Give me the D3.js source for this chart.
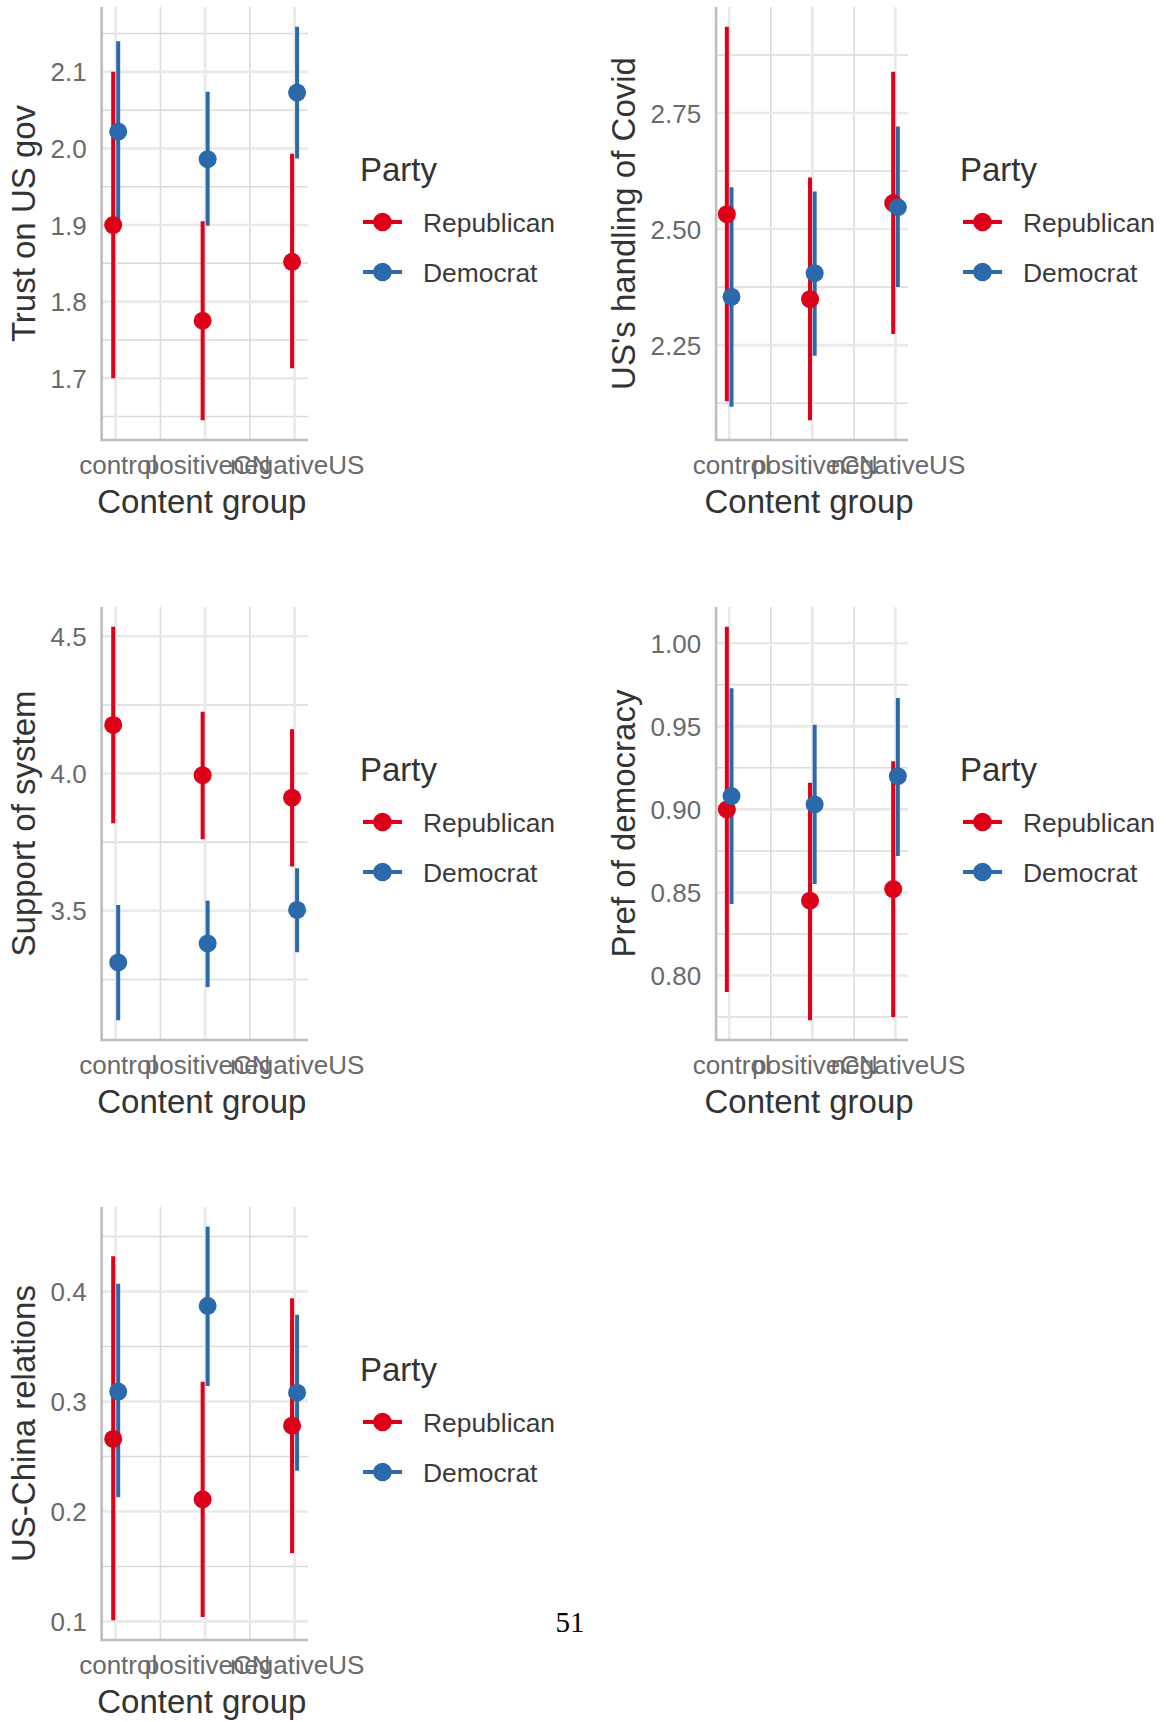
<!DOCTYPE html>
<html>
<head>
<meta charset="utf-8">
<style>
  body { margin: 0; background: #fff; }
  text { font-family: "Liberation Sans", Arial, sans-serif; }
</style>
</head>
<body>
<svg id="chart" width="1171" height="1722"></svg>
<script src="https://cdn.jsdelivr.net/npm/d3@7"></script>
<script>
const groups = ["control", "positiveCN", "negativeUS"];
const parties = ["Republican", "Democrat"];
const partyColors = ["#dd0019", "#2c69ab"];
const outcomes = ["Trust on US gov", "US's handling of Covid", "Support of system",
                  "Pref of democracy", "US-China relations"];

// one row per outcome, one value per content group
const repEst = [
  [1.900, 1.775, 1.852],
  [2.532, 2.349, 2.556],
  [4.177, 3.994, 3.912],
  [0.900, 0.845, 0.852],
  [0.266, 0.211, 0.278]
];
const repLo = [
  [1.700, 1.645, 1.713],
  [2.129, 2.088, 2.274],
  [3.819, 3.761, 3.661],
  [0.790, 0.773, 0.775],
  [0.101, 0.104, 0.162]
];
const repHi = [
  [2.100, 1.905, 1.993],
  [2.936, 2.611, 2.839],
  [4.535, 4.225, 4.161],
  [1.010, 0.916, 0.929],
  [0.432, 0.318, 0.394]
];
const demEst = [
  [2.022, 1.986, 2.073],
  [2.354, 2.405, 2.547],
  [3.312, 3.381, 3.503],
  [0.908, 0.903, 0.920],
  [0.309, 0.387, 0.308]
];
const demLo = [
  [1.906, 1.899, 1.987],
  [2.117, 2.227, 2.375],
  [3.101, 3.222, 3.349],
  [0.843, 0.855, 0.872],
  [0.213, 0.314, 0.237]
];
const demHi = [
  [2.140, 2.074, 2.159],
  [2.590, 2.581, 2.721],
  [3.521, 3.537, 3.655],
  [0.973, 0.951, 0.967],
  [0.407, 0.459, 0.379]
];
const yTicks = [
  [1.7, 1.8, 1.9, 2.0, 2.1],
  [2.25, 2.5, 2.75],
  [3.5, 4.0, 4.5],
  [0.80, 0.85, 0.90, 0.95, 1.00],
  [0.1, 0.2, 0.3, 0.4]
];
const yTickLabels = [
  ["1.7", "1.8", "1.9", "2.0", "2.1"],
  ["2.25", "2.50", "2.75"],
  ["3.5", "4.0", "4.5"],
  ["0.80", "0.85", "0.90", "0.95", "1.00"],
  ["0.1", "0.2", "0.3", "0.4"]
];
const pageNumber = "51";

const svg = d3.select("#chart")
const plotTop = 7, plotBottom = 440, plotRight = 308
const dodge = 0.028

outcomes.forEach((title, i) => {
    let cx = (i % 2) * 600
    let cy = Math.floor(i / 2) * 600
    let g = svg.append("g").attr("transform", `translate(${cx},${cy})`)

    let ests = [repEst[i], demEst[i]], los = [repLo[i], demLo[i]], his = [repHi[i], demHi[i]]
    let rows = []
    parties.forEach((p, k) => {
        groups.forEach((grp, j) => {
            rows.push({ k: k, x: j + 1, est: ests[k][j], lo: los[k][j], hi: his[k][j] })
        })
    })

    // 5% expansion like ggplot
    let lo = d3.min(rows, d => d.lo), hi = d3.max(rows, d => d.hi)
    let pad = (hi - lo) * 0.05
    let y = d3.scaleLinear().domain([lo - pad, hi + pad]).range([plotBottom, plotTop])

    let gridG = g.append("g")

    // y axis labels, measured to place the panel
    let yAxis = g.append("g")
        .call(d3.axisLeft(y).tickValues(yTicks[i])
            .tickFormat((d, n) => yTickLabels[i][n]).tickSize(0).tickPadding(15))
    yAxis.select(".domain").remove()
    yAxis.attr("font-size", 26)
    yAxis.selectAll("text").attr("fill", "#6a6a6a").attr("dy", "0.35em")
    let maxW = d3.max(yAxis.selectAll("text").nodes(), n => n.getComputedTextLength())
    let left = 50.5 + maxW + 15
    yAxis.attr("transform", `translate(${left},0)`)

    let x = d3.scaleLinear().domain([0.843, 3.15]).range([left, plotRight])

    // grid
    let step = yTicks[i][1] - yTicks[i][0]
    let minorY = d3.range(yTicks[i][0] - step / 2, hi + pad, step).filter(v => v > lo - pad)
    gridG.selectAll(".ymin").data(minorY).enter().append("line")
        .attr("x1", left).attr("x2", plotRight)
        .attr("y1", d => y(d)).attr("y2", d => y(d))
        .attr("stroke", "#dadada").attr("stroke-width", 1.5)
    gridG.selectAll(".xmin").data([1.5, 2.5]).enter().append("line")
        .attr("x1", d => x(d)).attr("x2", d => x(d))
        .attr("y1", plotTop).attr("y2", plotBottom)
        .attr("stroke", "#dadada").attr("stroke-width", 1.5)
    gridG.selectAll(".ymaj").data(yTicks[i]).enter().append("line")
        .attr("x1", left).attr("x2", plotRight)
        .attr("y1", d => y(d)).attr("y2", d => y(d))
        .attr("stroke", "#e9e9e9").attr("stroke-width", 2.6)
    gridG.selectAll(".xmaj").data([1, 2, 3]).enter().append("line")
        .attr("x1", d => x(d)).attr("x2", d => x(d))
        .attr("y1", plotTop).attr("y2", plotBottom)
        .attr("stroke", "#e9e9e9").attr("stroke-width", 2.6)

    // axis lines
    g.append("line").attr("x1", left).attr("x2", left).attr("y1", plotTop).attr("y2", plotBottom + 1.3)
        .attr("stroke", "#bdbdbd").attr("stroke-width", 2.6)
    g.append("line").attr("x1", left).attr("x2", plotRight).attr("y1", plotBottom).attr("y2", plotBottom)
        .attr("stroke", "#bdbdbd").attr("stroke-width", 2.6)

    // x axis labels
    let xAxis = g.append("g").attr("transform", `translate(2,${plotBottom})`)
        .call(d3.axisBottom(x).tickValues([1, 2, 3])
            .tickFormat(d => groups[d - 1]).tickSize(0).tickPadding(16))
    xAxis.select(".domain").remove()
    xAxis.attr("font-size", 26)
    xAxis.selectAll("text").attr("fill", "#6a6a6a")

    // titles
    g.append("text").attr("x", (left + plotRight) / 2 - 3).attr("y", 513)
        .attr("text-anchor", "middle").attr("font-size", 33).attr("fill", "#333")
        .text("Content group")
    g.append("text").attr("transform", `translate(35,${(plotTop + plotBottom) / 2}) rotate(-90)`)
        .attr("text-anchor", "middle").attr("font-size", 33).attr("fill", "#333")
        .text(title)

    // point ranges: all lines first, then points
    let xpos = d => x(d.x + (d.k === 0 ? -dodge : dodge))
    g.selectAll(".range").data(rows).enter().append("line")
        .attr("x1", xpos).attr("x2", xpos)
        .attr("y1", d => y(d.lo)).attr("y2", d => y(d.hi))
        .attr("stroke", d => partyColors[d.k]).attr("stroke-width", 4)
    g.selectAll(".pt").data(rows).enter().append("circle")
        .attr("cx", xpos).attr("cy", d => y(d.est)).attr("r", 9)
        .attr("fill", d => partyColors[d.k])

    // legend
    let leg = g.append("g").attr("transform", "translate(360,0)")
    leg.append("text").attr("x", 0).attr("y", 181).attr("font-size", 33).attr("fill", "#333").text("Party")
    parties.forEach((p, k) => {
        let ly = 222 + k * 50
        leg.append("line").attr("x1", 3).attr("x2", 42).attr("y1", ly).attr("y2", ly)
            .attr("stroke", partyColors[k]).attr("stroke-width", 4)
        leg.append("circle").attr("cx", 22.5).attr("cy", ly).attr("r", 9.3).attr("fill", partyColors[k])
        leg.append("text").attr("x", 63).attr("y", ly + 10).attr("font-size", 26.4)
            .attr("fill", "#3a3a3a").text(p)
    })
})

svg.append("text").attr("x", 570).attr("y", 1632).attr("text-anchor", "middle")
    .style("font-family", "'Liberation Serif', 'Times New Roman', serif")
    .attr("font-size", 29).attr("fill", "#000").text(pageNumber)
</script>
</body>
</html>
